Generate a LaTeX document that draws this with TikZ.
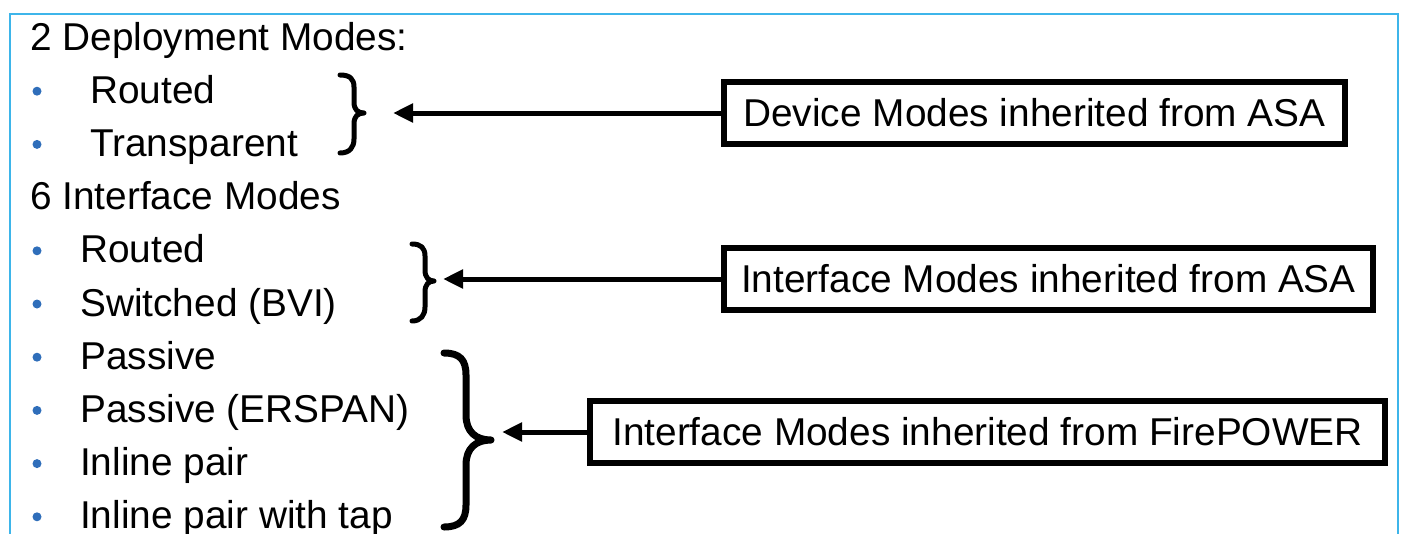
\documentclass[tikz,border=0pt]{standalone}
\usepackage{fontspec}
\setmainfont{Liberation Sans}
\usetikzlibrary{arrows.meta}
\definecolor{framecol}{HTML}{3DB5EA}
\definecolor{bulletcol}{HTML}{2F6EBA}
\tikzset{
  txt/.style={anchor=base west, inner sep=0pt, font=\fontsize{38.8}{46}\selectfont},
  bul/.style={circle, fill=bulletcol, inner sep=0pt, minimum size=9pt},
  infobox/.style={draw=black, line width=5.5pt, inner sep=0pt, minimum height=62pt, font=\fontsize{38.8}{46}\selectfont},
  arr/.style={line width=5pt, -{Triangle[length=20pt,width=18pt]}},
  bracestyle/.style={line width=5pt, line cap=round, line join=round},
}
\begin{document}
\begin{tikzpicture}[x=1pt,y=-1pt]
\useasboundingbox (0,0) rectangle (1402,533);
% frame
\draw[framecol, line width=2pt] (10,540) -- (10,14) -- (1398,14) -- (1398,540);

% left texts
\node[txt] (h1) at (30,50) {2 Deployment Modes:};
\node[bul] (d1) at (37,91.2) {};
\node[txt] (l1) at (90,103.2) {Routed};
\node[bul] (d2) at (37,144.4) {};
\node[txt] (l2) at (90,156.4) {Transparent};
\node[txt] (h2) at (30,209.6) {6 Interface Modes};
\node[bul] (d3) at (37,250.8) {};
\node[txt] (l3) at (80,262.8) {Routed};
\node[bul] (d4) at (37,304) {};
\node[txt] (l4) at (80,316) {Switched (BVI)};
\node[bul] (d5) at (37,357.2) {};
\node[txt] (l5) at (80,369.2) {Passive};
\node[bul] (d6) at (37,410.4) {};
\node[txt] (l6) at (80,422.4) {Passive (ERSPAN)};
\node[bul] (d7) at (37,463.6) {};
\node[txt] (l7) at (80,475.6) {Inline pair};
\node[bul] (d8) at (37,516.8) {};
\node[txt] (l8) at (80,528.8) {Inline pair with tap};

% braces
\draw[bracestyle] (340,75) .. controls (350,75) and (354,79) .. (354,87) -- (354,102)
  .. controls (354,110) and (358,113) .. (364,113)
  .. controls (358,113) and (354,116) .. (354,124) -- (354,139)
  .. controls (354,147) and (350,153) .. (340,153);
\draw[bracestyle] (412,244) .. controls (421,244) and (425,248) .. (425,256) -- (425,270)
  .. controls (425,278) and (429,281) .. (434,281)
  .. controls (429,281) and (425,284) .. (425,292) -- (425,307)
  .. controls (425,315) and (421,321) .. (412,321);
\draw[bracestyle, line width=7pt] (444,353) .. controls (460,353) and (466,360) .. (466,375) -- (466,415)
  .. controls (466,432) and (476,440) .. (491,440)
  .. controls (476,440) and (466,448) .. (466,465) -- (466,505)
  .. controls (466,520) and (460,527) .. (444,527);

% boxes
\node[infobox, minimum width=621pt] (b1) at (1034.5,113) {Device Modes inherited from ASA};
\node[infobox, minimum width=649pt] (b2) at (1048.5,279) {Interface Modes inherited from ASA};
\node[infobox, minimum width=795pt] (b3) at (987.5,432) {Interface Modes inherited from FirePOWER};

% arrows
\coordinate (t1) at (393,113);
\coordinate (t2) at (443,279);
\coordinate (t3) at (502,432);
\draw[arr] (b1.west) -- (t1);
\draw[arr] (b2.west) -- (t2);
\draw[arr] (b3.west) -- (t3);
\end{tikzpicture}
\end{document}
